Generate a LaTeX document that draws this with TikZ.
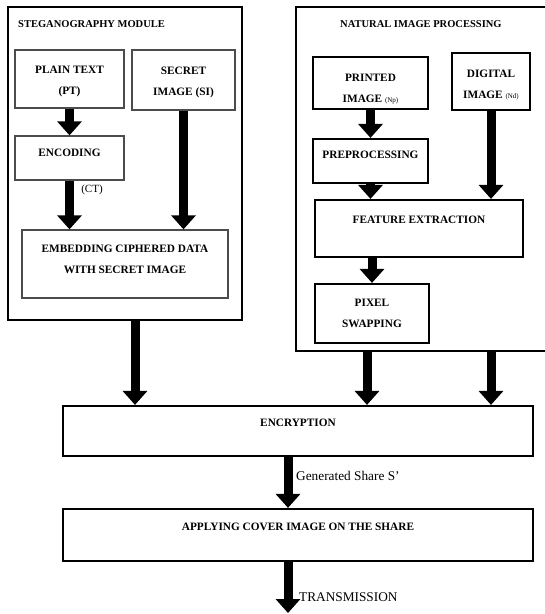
\documentclass[tikz,border=0pt]{standalone}
\usepackage{fontspec}
\setmainfont{Liberation Serif}
\usetikzlibrary{arrows.meta}

\begin{document}
\begin{tikzpicture}[x=1pt, y=-1pt,
    box/.style={draw, line width=2.2pt, align=center, inner sep=0pt, font=\bfseries\fontsize{11.3}{21}\selectfont},
    thinbox/.style={box, line width=1.3pt, draw=black!70},
    frame/.style={draw, line width=2.6pt, inner sep=0pt},
    title/.style={font=\bfseries\fontsize{10.5}{12}\selectfont, inner sep=0pt, anchor=west},
    note/.style={font=\fontsize{13.3}{15}\selectfont, inner sep=0pt, anchor=west},
    flow/.style={line width=9pt, -{Triangle[width=24pt,length=14pt]}}]
    \useasboundingbox (0,0) rectangle (545,614);
    \clip (0,0) rectangle (545,614);

    \node[frame, minimum width=234pt, minimum height=313pt] (steg) at (125,163.5) {};
    \node[title] (stegt) at (18,24) {STEGANOGRAPHY MODULE};
    \node[thinbox, minimum width=109pt, minimum height=58pt, text height=33pt] (pt) at (69.5,79) {PLAIN TEXT\\(PT)};
    \node[thinbox, minimum width=103pt, minimum height=60pt, text height=33pt] (si) at (183.5,80) {SECRET\\IMAGE (SI)};
    \node[thinbox, minimum width=109pt, minimum height=44pt, text depth=10pt] (enc) at (69.5,158) {ENCODING};
    \node[font=\fontsize{11}{13}\selectfont, inner sep=0pt] (ct) at (92,190) {(CT)};
    \node[thinbox, minimum width=206pt, minimum height=68pt, text depth=10pt] (emb) at (125,264) {EMBEDDING CIPHERED DATA\\WITH SECRET IMAGE};

    \node[frame, minimum width=256pt, minimum height=344pt] (nip) at (424,179) {};
    \node[title] (nipt) at (340,24) {NATURAL IMAGE PROCESSING};
    \node[box, minimum width=115pt, minimum height=52pt, text height=40pt] (pi) at (370.5,83) {PRINTED\\IMAGE {\normalfont\fontsize{7}{8}\selectfont (Np)}};
    \node[box, minimum width=78pt, minimum height=57pt, text height=36pt] (di) at (491,81.5) {DIGITAL\\IMAGE {\normalfont\fontsize{7}{8}\selectfont (Nd)}};
    \node[box, minimum width=115pt, minimum height=44pt, text depth=12pt] (pre) at (370.5,161) {PREPROCESSING};
    \node[box, minimum width=208pt, minimum height=57pt, text depth=17pt] (fe) at (419,228.5) {FEATURE EXTRACTION};
    \node[box, minimum width=114pt, minimum height=59pt] (px) at (372,313.5) {PIXEL\\SWAPPING};

    \node[box, minimum width=470pt, minimum height=50pt, text depth=16pt] (encr) at (298,431) {ENCRYPTION};
    \node[box, minimum width=470pt, minimum height=52pt, text depth=16pt] (cover) at (298,535) {APPLYING COVER IMAGE ON THE SHARE};
    \node[note] (gen) at (296,476) {Generated Share S'};
    \node[note] (trans) at (299,597) {TRANSMISSION};

    \draw[flow] (pt) -- (enc);
    \draw[flow] (enc.south) -- (emb.north -| enc.south);
    \draw[flow] (si.south) -- (emb.north -| si.south);
    \draw[flow] (pi) -- (pre);
    \draw[flow] (pre.south) -- (fe.north -| pre.south);
    \draw[flow] (di.south) -- (fe.north -| di.south);
    \draw[flow] (fe.south -| px.north) -- (px.north);

    \coordinate (s1) at ([xshift=10pt]steg.south);
    \coordinate (n1) at ([xshift=-5pt]px.south);
    \draw[flow] (s1) -- (s1 |- encr.north);
    \draw[flow] (n1 |- nip.south) -- (n1 |- encr.north);
    \draw[flow] (nip.south -| di.south) -- (encr.north -| di.south);

    \coordinate (g1) at ([xshift=-10pt]encr.south);
    \coordinate (g2) at ([xshift=-10pt]cover.south);
    \coordinate (tx) at (288,613);
    \draw[flow] (g1) -- (g1 |- cover.north);
    \draw[flow] (g2) -- (tx);
\end{tikzpicture}
\end{document}
